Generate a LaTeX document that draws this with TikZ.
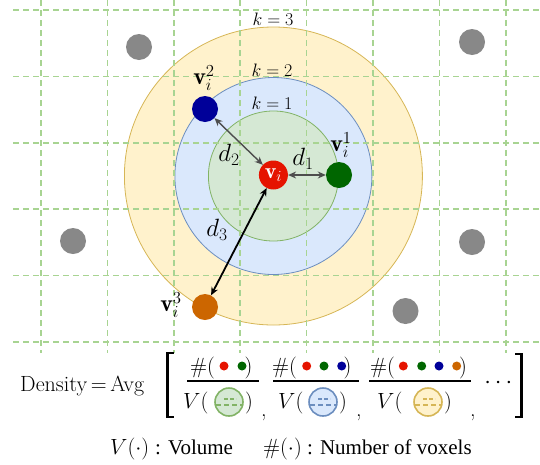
\RequirePackage{fix-cm}
\documentclass[tikz,border=0pt]{standalone}
\usepackage{fontspec}
\newfontfamily\timesf{Liberation Serif}
\usetikzlibrary{arrows.meta}
\definecolor{gridc}{HTML}{A8D492}
\definecolor{yfill}{HTML}{FFF2CC}\definecolor{ydraw}{HTML}{D6B656}
\definecolor{bfill}{HTML}{DAE8FC}\definecolor{bdraw}{HTML}{6C8EBF}
\definecolor{gfill}{HTML}{D5E8D4}\definecolor{gdraw}{HTML}{82B366}
\definecolor{vred}{HTML}{E51400}
\definecolor{vgreen}{HTML}{006600}
\definecolor{vblue}{HTML}{000099}
\definecolor{vorange}{HTML}{CC6600}
\definecolor{vgray}{HTML}{888888}
\definecolor{arrgray}{HTML}{4D4D4D}
\begin{document}
\begin{tikzpicture}[x=1pt,y=-1pt,
  gridline/.style={gridc, line width=1.6pt, dash pattern=on 6pt off 4pt},
  ring/.style={circle, inner sep=0pt, line width=0.8pt},
  dot/.style={circle, inner sep=0pt, minimum size=26pt},
  smalldot/.style={circle, inner sep=0pt, minimum size=9pt},
  icon/.style={circle, inner sep=0pt, minimum size=28pt, line width=1.6pt},
  arr/.style={line width=1.4pt, {Stealth[length=8pt,width=7pt]}-{Stealth[length=8pt,width=7pt]}},
  mathlbl/.style={inner sep=0pt, font=\fontsize{24}{28}\selectfont},
  dlbl/.style={inner sep=0pt, font=\fontsize{25}{29}\selectfont},
  klbl/.style={inner sep=0pt, font=\fontsize{18}{21}\selectfont},
  txt/.style={inner sep=0pt, anchor=base west, font=\fontsize{22}{26}\selectfont},
  ttxt/.style={inner sep=0pt, anchor=base west, font=\fontsize{21}{25}\timesf},
  ]
\useasboundingbox (0,0) rectangle (540,464);
% rings
\node[ring, fill=yfill, draw=ydraw, minimum size=298pt] (ring3) at (273.4,176) {};
\node[ring, fill=bfill, draw=bdraw, minimum size=197pt] (ring2) at (273.4,176) {};
\node[ring, fill=gfill, draw=gdraw, minimum size=130pt] (ring1) at (273.4,176) {};
% grid
\foreach \i in {0,...,7} \draw[gridline] ({41+66.4*\i},0) -- ({41+66.4*\i},353);
\foreach \j in {0,...,5} \draw[gridline] (13,{10+66.4*\j}) -- (540,{10+66.4*\j});
% gray voxels
\node[dot, fill=vgray] (g1) at (139,47) {};
\node[dot, fill=vgray] (g2) at (472,42) {};
\node[dot, fill=vgray] (g3) at (73,241) {};
\node[dot, fill=vgray] (g4) at (472,242) {};
\node[dot, fill=vgray] (g5) at (405.5,311) {};
% neighbours
\node[dot, fill=vred, minimum size=29pt, text=white, font=\fontsize{22}{26}\selectfont] (vi) at (273.4,175) {$\mathbf{v}_i$};
\node[dot, fill=vgreen] (v1) at (339,175) {};
\node[dot, fill=vblue] (v2) at (205,109) {};
\node[dot, fill=vorange] (v3) at (205,307) {};
% arrows
\draw[arr, arrgray] (vi) -- (v1);
\draw[arr, arrgray] (v2) -- (vi);
\draw[arr, black, line width=1.8pt] (vi) -- (v3);
% labels
\node[mathlbl] (l1) at (341,145) {$\mathbf{v}_i^1$};
\node[mathlbl] (l2) at (204,78) {$\mathbf{v}_i^2$};
\node[mathlbl] (l3) at (171,305) {$\mathbf{v}_i^3$};
\node[dlbl] (d1) at (303,159) {$d_1$};
\node[dlbl] (d2) at (229,155) {$d_2$};
\node[dlbl] (d3) at (217,230) {$d_3$};
\node[klbl] (k3) at (273,19) {$k=3$};
\node[klbl] (k2) at (272,70) {$k=2$};
\node[klbl] (k1) at (272,103) {$k=1$};
% formula
\node[txt] (dens) at (20,391.5) {Density\,=\,Avg};
\draw[line width=2.6pt] (173.5,353) -- (167.5,353) -- (167.5,417) -- (173.5,417);
\draw[line width=2.6pt] (515,354) -- (521.5,354) -- (521.5,417) -- (515,417);
% fraction 1
\node[txt] (n1a) at (190,373) {$\#($};
\node[smalldot, fill=vred] (n1r) at (224,366) {};
\node[smalldot, fill=vgreen] (n1g) at (242,366) {};
\node[txt] (n1b) at (244.5,373) {$)$};
\draw[line width=1.8pt] (187,381) -- (259,381);
\node[txt] (m1a) at (183,408) {$V($};
\node[icon, fill=gfill, draw=gdraw] (ic1) at (229,402) {};
\node[txt] (m1b) at (245,408) {$)$};
\node[txt] (c1) at (261,416) {,};
% fraction 2
\node[txt] (n2a) at (272,373) {$\#($};
\node[smalldot, fill=vred] (n2r) at (306.7,366) {};
\node[smalldot, fill=vgreen] (n2g) at (324,366) {};
\node[smalldot, fill=vblue] (n2b) at (341.7,366) {};
\node[txt] (n2c) at (343.5,373) {$)$};
\draw[line width=1.8pt] (273,381) -- (359,381);
\node[txt] (m2a) at (278,408) {$V($};
\node[icon, fill=bfill, draw=bdraw] (ic2) at (323,402) {};
\node[txt] (m2b) at (339,408) {$)$};
\node[txt] (c2) at (356,416) {,};
% fraction 3
\node[txt] (n3a) at (370,373) {$\#($};
\node[smalldot, fill=vred] (n3r) at (403.3,366) {};
\node[smalldot, fill=vgreen] (n3g) at (421.7,366) {};
\node[smalldot, fill=vblue] (n3b) at (439,366) {};
\node[smalldot, fill=vorange] (n3o) at (456.7,366) {};
\node[txt] (n3c) at (459,373) {$)$};
\draw[line width=1.8pt] (369,381) -- (471,381);
\node[txt] (m3a) at (377,408) {$V($};
\node[icon, fill=yfill, draw=ydraw] (ic3) at (428,402) {};
\node[txt] (m3b) at (444,408) {$)$};
\node[txt] (c3) at (470,416) {,};
\node[mathlbl] (dots) at (498.3,383) {$\cdots$};
% icon dashes
\foreach \ic/\cc in {ic1/gdraw, ic2/bdraw, ic3/ydraw}{
  \draw[\cc, line width=1.5pt, dash pattern=on 4pt off 2pt] ([shift={(-5,-3)}]\ic.center) -- ([shift={(7,-3)}]\ic.center);
  \draw[\cc, line width=1.5pt, dash pattern=on 5pt off 3pt] ([shift={(-13,3)}]\ic.center) -- ([shift={(13,3)}]\ic.center);
}
% legend
\node[txt] (lv) at (110,454.5) {$V(\cdot)$};
\node[ttxt] (lvt) at (155,454.5) {: Volume};
\node[txt] (lh) at (263,454.5) {$\#(\cdot)$};
\node[ttxt] (lht) at (307,454.5) {: Number of voxels};
\end{tikzpicture}
\end{document}
